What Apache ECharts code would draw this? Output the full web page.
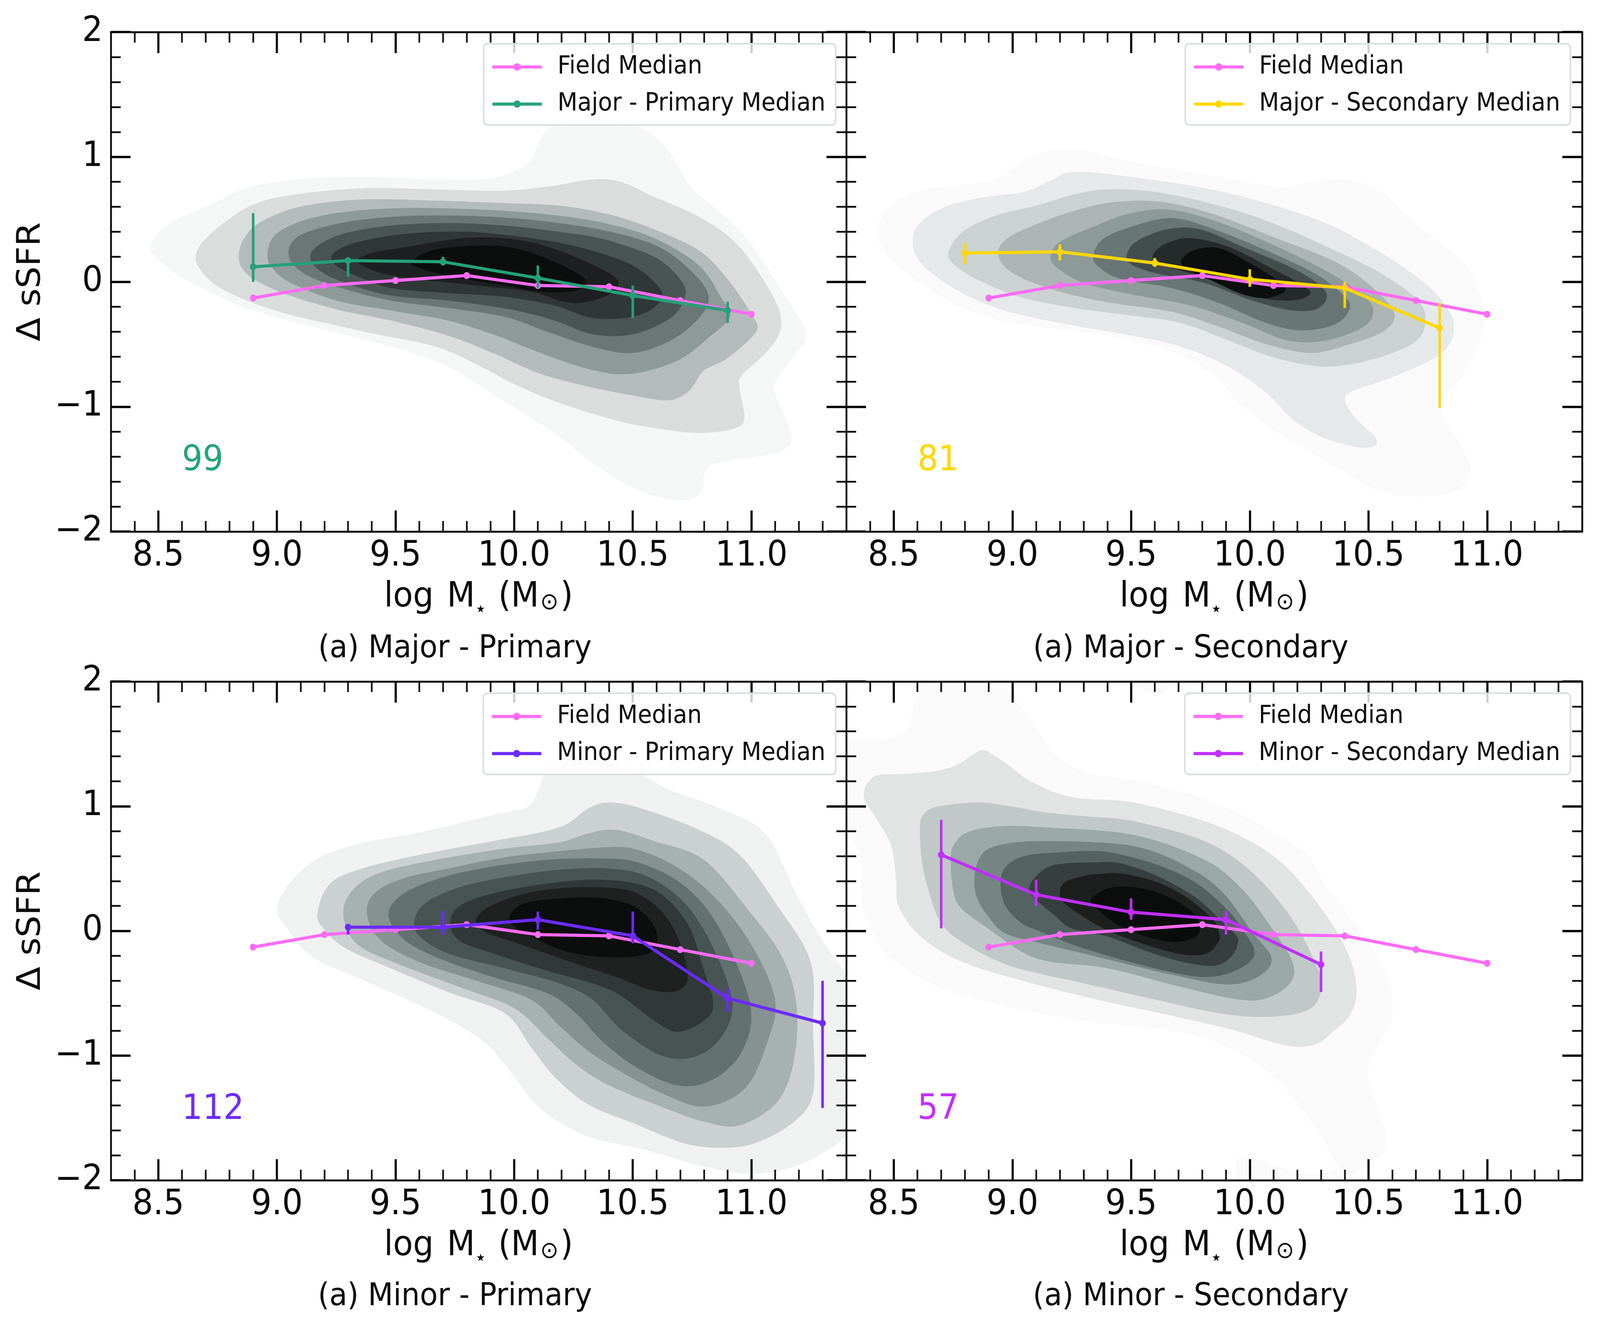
<!DOCTYPE html>
<html><head><meta charset="utf-8">
<style>html,body{margin:0;padding:0;background:#fff;overflow:hidden}#c{width:4375px;height:3408px;transform-origin:0 0}</style>
<script src="https://cdn.jsdelivr.net/npm/echarts@6/dist/echarts.min.js"></script>
</head><body><div id="c"></div>
<script>
const xMajor=[8.5,9,9.5,10,10.5,11];
const xMinor=[8.4,8.6,8.7,8.8,8.9,9.1,9.2,9.3,9.4,9.6,9.7,9.8,9.9,10.1,10.2,10.3,10.4,10.6,10.7,10.8,10.9,11.1,11.2,11.3];
const yMajor=[-2,-1,0,1,2];
const yMinor=[-1.8,-1.6,-1.4,-1.2,-0.8,-0.6,-0.4,-0.2,0.2,0.4,0.6,0.8,1.2,1.4,1.6,1.8];
const fieldX=[8.9,9.2,9.5,9.8,10.1,10.4,10.7,11.0];
const fieldY=[-0.13,-0.03,0.01,0.05,-0.03,-0.04,-0.15,-0.26];

const mpX=[8.9,9.3,9.7,10.1,10.5,10.9];
const mpY=[0.12,0.17,0.16,0.03,-0.11,-0.23];
const mpLow=[0.0,0.04,0.13,-0.05,-0.29,-0.33];
const mpHigh=[0.55,0.19,0.20,0.13,-0.03,-0.16];
const msX=[8.8,9.2,9.6,10.0,10.4,10.8];
const msY=[0.23,0.24,0.15,0.02,-0.05,-0.37];
const msLow=[0.14,0.17,0.12,-0.04,-0.21,-1.01];
const msHigh=[0.31,0.30,0.19,0.10,0.0,-0.17];
const npX=[9.3,9.7,10.1,10.5,10.9,11.3];
const npY=[0.03,0.03,0.09,-0.04,-0.54,-0.74];
const npLow=[-0.03,-0.03,0.01,-0.10,-0.65,-1.42];
const npHigh=[0.05,0.16,0.155,0.155,-0.46,-0.40];
const nsX=[8.7,9.1,9.5,9.9,10.3];
const nsY=[0.61,0.29,0.15,0.09,-0.27];
const nsLow=[0.02,0.20,0.09,-0.03,-0.49];
const nsHigh=[0.89,0.41,0.26,0.16,-0.165];

const mpShades=['#f5f7f6','#d9dedd','#b3bcbb','#8d9a98','#6a7776','#4a5453','#303737','#1c2020','#0c0e0e'];
const msShades=['#fafafa','#e6e9e9','#ccd2d2','#acb5b4','#8c9a98','#687675','#444d4d','#252a2a','#0d0f0f'];
const npShades=['#f0f2f1','#cbd1d0','#a7b1b0','#869291','#637170','#485453','#303838','#1d2120','#0c0d0d'];
const nsShades=['#fafafa','#e0e4e3','#c0c9c8','#9aa8a7','#748584','#546362','#363e3f','#1b201f','#0b0d0c'];

const mpContours=[
[[8.47,.30],[8.54,.46],[8.71,.61],[8.87,.75],[9.08,.82],[9.37,.84],[9.67,.82],[9.91,.83],[10.06,.95],[10.11,1.14],[10.17,1.26],[10.33,1.32],[10.50,1.26],[10.62,1.12],[10.69,.93],[10.75,.75],[10.88,.54],[11.0,.30],[11.13,-.08],[11.23,-.40],[11.19,-.57],[11.11,-.78],[11.10,-.89],[11.17,-1.24],[11.12,-1.36],[11.0,-1.41],[10.84,-1.46],[10.80,-1.55],[10.79,-1.69],[10.70,-1.75],[10.52,-1.67],[10.33,-1.45],[10.19,-1.24],[9.96,-.96],[9.72,-.68],[9.48,-.52],[9.15,-.36],[8.87,-.21],[8.61,.02],[8.49,.20]],
[[8.66,.23],[8.73,.40],[8.89,.61],[9.08,.70],[9.37,.75],[9.67,.74],[9.96,.73],[10.17,.77],[10.33,.82],[10.45,.80],[10.59,.68],[10.76,.54],[10.90,.37],[11.0,.16],[11.11,-.19],[11.12,-.40],[11.06,-.57],[10.96,-.75],[10.95,-.85],[10.97,-1.10],[10.92,-1.18],[10.78,-1.21],[10.62,-1.18],[10.43,-1.11],[10.19,-.97],[10.0,-.82],[9.86,-.68],[9.67,-.52],[9.37,-.40],[9.01,-.24],[8.78,-.07],[8.68,.09]],
[[8.84,.23],[8.89,.42],[9.01,.55],[9.15,.62],[9.37,.66],[9.67,.65],[9.96,.63],[10.19,.61],[10.40,.54],[10.59,.42],[10.78,.25],[10.90,.02],[11.0,-.26],[11.02,-.40],[10.90,-.61],[10.80,-.71],[10.76,-.82],[10.72,-.90],[10.64,-.95],[10.47,-.90],[10.29,-.83],[10.10,-.73],[9.91,-.57],[9.72,-.43],[9.48,-.31],[9.25,-.22],[9.01,-.08],[8.87,.07]],
[[8.96,.20],[8.99,.37],[9.11,.49],[9.29,.56],[9.53,.59],[9.84,.58],[10.14,.54],[10.38,.47],[10.59,.35],[10.78,.13],[10.87,-.12],[10.91,-.28],[10.83,-.43],[10.71,-.61],[10.57,-.71],[10.43,-.74],[10.26,-.67],[10.07,-.54],[9.91,-.42],[9.72,-.31],[9.48,-.23],[9.25,-.15],[9.06,-.01],[8.99,.09]],
[[9.05,.20],[9.08,.35],[9.20,.44],[9.37,.50],[9.60,.53],[9.91,.52],[10.19,.47],[10.43,.39],[10.62,.27],[10.76,.06],[10.82,-.12],[10.78,-.29],[10.66,-.47],[10.50,-.57],[10.33,-.52],[10.14,-.40],[9.96,-.28],[9.72,-.21],[9.48,-.15],[9.27,-.05],[9.12,.06]],
[[9.14,.20],[9.18,.30],[9.29,.39],[9.48,.45],[9.72,.47],[9.96,.45],[10.19,.40],[10.38,.34],[10.59,.20],[10.70,.02],[10.72,-.12],[10.66,-.29],[10.50,-.42],[10.33,-.42],[10.17,-.31],[9.98,-.22],[9.72,-.15],[9.48,-.11],[9.29,-.01],[9.18,.09]],
[[9.23,.20],[9.27,.27],[9.39,.34],[9.58,.39],[9.81,.40],[10.07,.35],[10.29,.27],[10.50,.13],[10.62,-.07],[10.60,-.19],[10.50,-.28],[10.33,-.29],[10.17,-.19],[9.96,-.12],[9.72,-.09],[9.48,-.05],[9.32,.06],[9.25,.13]],
[[9.34,.16],[9.40,.23],[9.55,.28],[9.79,.35],[10.0,.34],[10.19,.25],[10.40,.07],[10.44,-.03],[10.38,-.12],[10.24,-.17],[10.07,-.08],[9.84,-.03],[9.60,.02],[9.44,.07]],
[[9.57,.16],[9.65,.25],[9.84,.29],[10.0,.27],[10.17,.16],[10.30,.02],[10.26,-.07],[10.12,-.08],[9.96,-.03],[9.74,.04],[9.60,.11]]
];
const msContours=[
[[8.43,.44],[8.50,.63],[8.63,.74],[8.79,.77],[8.95,.84],[9.05,.98],[9.16,1.05],[9.30,1.05],[9.50,.96],[9.81,.86],[10.11,.76],[10.24,.79],[10.40,.82],[10.54,.74],[10.67,.51],[10.83,.27],[10.93,.09],[10.98,-.19],[10.98,-.43],[10.91,-.71],[10.81,-.96],[10.82,-1.10],[10.90,-1.34],[10.93,-1.53],[10.87,-1.67],[10.71,-1.72],[10.54,-1.67],[10.38,-1.50],[10.11,-1.20],[9.95,-.96],[9.85,-.75],[9.71,-.59],[9.50,-.47],[9.20,-.38],[8.95,-.31],[8.75,-.17],[8.54,.09],[8.45,.28]],
[[8.58,.34],[8.62,.49],[8.73,.61],[8.89,.68],[9.05,.72],[9.16,.81],[9.26,.88],[9.50,.84],[9.81,.75],[10.07,.63],[10.32,.47],[10.52,.27],[10.69,.06],[10.81,-.15],[10.86,-.36],[10.81,-.57],[10.62,-.75],[10.44,-.87],[10.40,-.94],[10.44,-1.08],[10.53,-1.25],[10.52,-1.32],[10.44,-1.32],[10.30,-1.24],[10.18,-1.10],[10.07,-.89],[9.91,-.68],[9.71,-.52],[9.50,-.43],[9.20,-.33],[8.95,-.22],[8.75,-.05],[8.61,.16]],
[[8.73,.23],[8.79,.40],[8.93,.53],[9.10,.61],[9.26,.70],[9.40,.74],[9.60,.72],[9.87,.61],[10.11,.46],[10.36,.25],[10.56,.06],[10.71,-.15],[10.74,-.33],[10.69,-.49],[10.52,-.62],[10.32,-.68],[10.11,-.61],[9.91,-.47],[9.71,-.33],[9.50,-.27],[9.26,-.21],[9.03,-.12],[8.85,.02],[8.76,.13]],
[[8.94,.21],[8.98,.35],[9.14,.49],[9.30,.59],[9.44,.64],[9.63,.64],[9.85,.54],[10.11,.35],[10.36,.16],[10.52,-.05],[10.61,-.26],[10.56,-.40],[10.42,-.50],[10.26,-.57],[10.07,-.50],[9.87,-.36],[9.67,-.24],[9.42,-.17],[9.20,-.08],[9.01,.06]],
[[9.16,.20],[9.20,.32],[9.34,.44],[9.48,.54],[9.65,.58],[9.85,.49],[10.07,.32],[10.30,.11],[10.46,-.08],[10.52,-.22],[10.48,-.36],[10.32,-.47],[10.16,-.47],[9.97,-.33],[9.75,-.19],[9.50,-.10],[9.30,-.01],[9.19,.11]],
[[9.34,.20],[9.38,.34],[9.50,.44],[9.67,.51],[9.85,.42],[10.07,.25],[10.28,.06],[10.40,-.12],[10.42,-.22],[10.36,-.34],[10.22,-.39],[10.07,-.33],[9.87,-.17],[9.67,-.05],[9.46,.02],[9.37,.11]],
[[9.48,.20],[9.52,.32],[9.65,.42],[9.79,.42],[9.97,.28],[10.20,.09],[10.32,-.08],[10.29,-.21],[10.18,-.23],[10.01,-.15],[9.81,-.01],[9.60,.07],[9.51,.13]],
[[9.59,.20],[9.64,.30],[9.75,.35],[9.91,.28],[10.07,.13],[10.24,-.05],[10.24,-.12],[10.16,-.15],[10.03,-.12],[9.87,0],[9.71,.09],[9.63,.14]],
[[9.71,.16],[9.76,.25],[9.87,.27],[9.99,.16],[10.11,.02],[10.15,-.07],[10.07,-.13],[9.97,-.10],[9.85,0],[9.75,.09]]
];
const npContours=[
[[9.0,.18],[9.06,.40],[9.18,.59],[9.37,.71],[9.60,.79],[9.91,.93],[10.06,1.0],[10.11,1.17],[10.16,1.37],[10.33,1.46],[10.54,1.25],[10.66,1.13],[10.87,.98],[11.06,.78],[11.18,.33],[11.30,-.08],[11.39,-.32],[11.46,-.59],[11.46,-1.44],[11.39,-1.66],[11.21,-1.87],[11.0,-1.95],[10.78,-1.88],[10.54,-1.75],[10.31,-1.65],[10.12,-1.44],[10.0,-1.17],[9.88,-.90],[9.67,-.66],[9.37,-.40],[9.15,-.21],[9.04,.03]],
[[9.17,.14],[9.22,.37],[9.34,.49],[9.60,.61],[9.91,.72],[10.19,.83],[10.31,.98],[10.40,1.03],[10.54,.98],[10.78,.81],[10.95,.61],[11.11,.20],[11.25,-.25],[11.26,-.79],[11.26,-1.30],[11.18,-1.53],[11.02,-1.70],[10.87,-1.74],[10.71,-1.70],[10.50,-1.54],[10.31,-1.39],[10.17,-1.17],[10.07,-.93],[9.96,-.66],[9.72,-.49],[9.48,-.30],[9.29,-.14],[9.20,.01]],
[[9.28,.13],[9.32,.33],[9.44,.47],[9.67,.57],[9.96,.66],[10.19,.71],[10.31,.78],[10.43,.81],[10.59,.72],[10.80,.57],[10.99,.16],[11.13,-.21],[11.19,-.59],[11.18,-1.03],[11.11,-1.37],[10.95,-1.56],[10.80,-1.53],[10.62,-1.41],[10.40,-1.24],[10.26,-1.07],[10.14,-.86],[10.0,-.62],[9.77,-.45],[9.53,-.28],[9.34,-.11]],
[[9.38,.13],[9.41,.30],[9.53,.42],[9.72,.50],[9.96,.59],[10.19,.64],[10.38,.67],[10.50,.66],[10.66,.54],[10.83,.30],[10.99,-.08],[11.10,-.55],[11.06,-.93],[10.97,-1.27],[10.80,-1.41],[10.62,-1.30],[10.45,-1.13],[10.31,-.96],[10.19,-.76],[10.07,-.55],[9.84,-.40],[9.60,-.25],[9.44,-.08]],
[[9.47,.13],[9.52,.28],[9.65,.40],[9.86,.50],[10.14,.57],[10.38,.58],[10.52,.55],[10.69,.40],[10.83,.13],[10.95,-.32],[11.0,-.69],[10.95,-1.0],[10.83,-1.20],[10.69,-1.24],[10.52,-1.10],[10.38,-.90],[10.26,-.66],[10.14,-.50],[9.91,-.37],[9.67,-.21],[9.53,-.06]],
[[9.58,.09],[9.63,.23],[9.77,.35],[9.96,.43],[10.19,.49],[10.40,.50],[10.57,.43],[10.73,.20],[10.85,-.18],[10.92,-.59],[10.87,-.86],[10.76,-1.01],[10.62,-1.0],[10.45,-.79],[10.33,-.55],[10.19,-.42],[9.96,-.30],[9.72,-.18],[9.60,-.04]],
[[9.73,.06],[9.77,.20],[9.91,.30],[10.14,.38],[10.38,.41],[10.59,.33],[10.73,.06],[10.80,-.32],[10.84,-.59],[10.80,-.72],[10.69,-.81],[10.59,-.72],[10.45,-.52],[10.33,-.42],[10.14,-.32],[9.91,-.18],[9.77,-.08]],
[[9.84,.09],[9.91,.21],[10.10,.32],[10.33,.35],[10.52,.30],[10.66,.06],[10.73,-.32],[10.70,-.47],[10.59,-.48],[10.43,-.37],[10.24,-.25],[10.03,-.11],[9.88,-.01]],
[[9.98,.08],[10.03,.21],[10.19,.26],[10.38,.26],[10.52,.18],[10.60,-.01],[10.57,-.18],[10.38,-.21],[10.21,-.16],[10.07,-.04]]
];
const nsIsland=[[9.50,2.05],[9.53,1.95],[9.58,1.90],[9.63,1.90],[9.68,2.05]];
const nsContours=[
[[8.44,-.115],[8.38,.12],[8.36,.33],[8.36,.57],[8.34,.68],[8.30,.82],[8.26,.89],[8.26,1.54],[8.30,1.54],[8.44,1.54],[8.51,1.56],[8.56,1.63],[8.58,1.77],[8.60,1.92],[8.62,2.02],[8.62,2.15],[8.94,2.15],[8.94,2.01],[9.03,1.81],[9.10,1.63],[9.18,1.42],[9.26,1.31],[9.38,1.24],[9.51,1.21],[9.71,1.12],[9.91,.98],[10.11,.78],[10.24,.61],[10.32,.37],[10.44,.06],[10.58,-.35],[10.60,-.68],[10.57,-.81],[10.50,-1.10],[10.52,-1.30],[10.58,-1.68],[10.55,-1.81],[10.44,-1.95],[10.44,-2.04],[10.0,-2.04],[9.94,-1.86],[9.96,-1.81],[10.01,-1.82],[10.11,-1.88],[10.20,-1.94],[10.29,-1.95],[10.35,-1.92],[10.37,-1.89],[10.35,-1.82],[10.29,-1.62],[10.22,-1.43],[10.15,-1.26],[10.08,-1.14],[9.98,-1.0],[9.84,-.88],[9.67,-.80],[9.50,-.76],[9.30,-.72],[8.99,-.61],[8.69,-.45],[8.48,-.21]],
[[8.376,1.13],[8.396,1.20],[8.435,1.25],[8.55,1.26],[8.67,1.28],[8.765,1.33],[8.83,1.41],[8.876,1.45],[8.92,1.41],[8.99,1.32],[9.06,1.22],[9.18,1.11],[9.30,1.06],[9.51,1.03],[9.81,.88],[10.01,.71],[10.16,.50],[10.32,.13],[10.42,-.21],[10.45,-.49],[10.42,-.68],[10.35,-.81],[10.29,-.90],[10.21,-.93],[10.11,-.90],[9.94,-.80],[9.67,-.68],[9.40,-.57],[9.10,-.43],[8.79,-.25],[8.61,-.04],[8.52,.20],[8.51,.40],[8.49,.68],[8.43,.89],[8.38,1.04]],
[[8.61,.79],[8.62,.92],[8.67,.99],[8.77,1.02],[8.87,1.03],[8.99,1.0],[9.14,.95],[9.30,.92],[9.51,.88],[9.81,.72],[10.01,.47],[10.18,.09],[10.29,-.32],[10.30,-.49],[10.24,-.64],[10.07,-.69],[9.87,-.66],[9.60,-.55],[9.30,-.42],[8.99,-.28],[8.78,-.08],[8.695,.08],[8.65,.30],[8.62,.54]],
[[8.74,.54],[8.75,.68],[8.81,.79],[8.95,.84],[9.14,.83],[9.51,.77],[9.81,.57],[9.97,.33],[10.09,.03],[10.18,-.25],[10.17,-.42],[10.07,-.54],[9.95,-.55],[9.71,-.45],[9.40,-.30],[9.10,-.22],[8.89,.03],[8.78,.19],[8.75,.33]],
[[8.84,.44],[8.87,.61],[8.95,.69],[9.14,.72],[9.51,.68],[9.75,.50],[9.89,.30],[10.01,-.01],[10.09,-.21],[10.05,-.35],[9.91,-.43],[9.67,-.35],[9.34,-.20],[9.10,-.09],[8.97,-.02],[8.90,.11],[8.85,.27]],
[[8.95,.37],[8.97,.51],[9.05,.60],[9.20,.63],[9.36,.64],[9.46,.61],[9.61,.53],[9.77,.39],[9.90,.18],[9.97,.01],[10.02,-.18],[9.95,-.31],[9.81,-.37],[9.60,-.30],[9.30,-.14],[9.11,0],[9.04,.06],[8.97,.20]],
[[9.07,.33],[9.10,.44],[9.18,.53],[9.36,.55],[9.46,.54],[9.61,.44],[9.77,.27],[9.87,.10],[9.94,-.03],[9.95,-.10],[9.92,-.21],[9.85,-.28],[9.72,-.25],[9.56,-.16],[9.41,-.05],[9.25,.02],[9.18,.12],[9.10,.25]],
[[9.20,.30],[9.22,.39],[9.30,.44],[9.36,.455],[9.46,.46],[9.61,.39],[9.74,.26],[9.85,.08],[9.87,-.02],[9.87,-.08],[9.82,-.18],[9.72,-.19],[9.56,-.11],[9.41,-.005],[9.31,.10],[9.22,.22]],
[[9.33,.24],[9.35,.29],[9.41,.345],[9.49,.355],[9.59,.32],[9.69,.24],[9.77,.126],[9.79,.02],[9.77,-.05],[9.69,-.09],[9.59,-.06],[9.46,.03],[9.36,.17]]
];
const panelNames=['Major - Primary','Major - Secondary','Minor - Primary','Minor - Secondary'];
const panelCounts=['99','81','112','57'];
const panelColors=['#24a278','#ffd700','#6c2bff','#c12fff'];
const fieldColor='#ff6bf5';

const FONT='DejaVu Sans', INK='#0a0a0a';
const host=document.getElementById('c');
const fitX=Math.min(1,window.innerWidth/4375);
host.style.transform='scaleX('+fitX+')';

function closedSpline(p){ // smooth closed outline through the digitised contour vertices
  const n=p.length,out=[];
  for(let i=0;i<n;i++){
    const a=p[(i-1+n)%n],b=p[i],c=p[(i+1)%n],d=p[(i+2)%n];
    for(let k=0;k<8;k++){const t=k/8,t2=t*t,t3=t2*t;
      out.push([0.5*(2*b[0]+(c[0]-a[0])*t+(2*a[0]-5*b[0]+4*c[0]-d[0])*t2+(3*b[0]-a[0]-3*c[0]+d[0])*t3),
                0.5*(2*b[1]+(c[1]-a[1])*t+(2*a[1]-5*b[1]+4*c[1]-d[1])*t2+(3*b[1]-a[1]-3*c[1]+d[1])*t3)]);}
  }
  return out;
}
const panels=[
 {name:panelNames[0],count:panelCounts[0],color:panelColors[0],X:mpX,Y:mpY,L:mpLow,H:mpHigh,C:mpContours,S:mpShades,box:[303,82,2011,1279],cap:1244,capTop:1622,legR:2090,yl:true},
 {name:panelNames[1],count:panelCounts[1],color:panelColors[1],X:msX,Y:msY,L:msLow,H:msHigh,C:msContours,S:msShades,box:[2314,82,2012,1279],cap:3256,capTop:1622,legR:81,yl:false},
 {name:panelNames[2],count:panelCounts[2],color:panelColors[2],X:npX,Y:npY,L:npLow,H:npHigh,C:npContours,S:npShades,box:[303,1745,2011,1277],cap:1244,capTop:3281,legR:2090,yl:true},
 {name:panelNames[3],count:panelCounts[3],color:panelColors[3],X:nsX,Y:nsY,L:nsLow,H:nsHigh,C:nsContours,S:nsShades,box:[2314,1745,2012,1277],cap:3256,capTop:3281,legR:81,yl:false,extra:nsIsland}
];
const grids=[],xAxes=[],yAxes=[],series=[],legends=[],titles=[];
const spine={show:true,onZero:false,lineStyle:{color:INK,width:5}};
const noLine={show:false,onZero:false};
const base={type:'value',splitLine:{show:false},minorTick:{show:false},silent:true,z:2};
const xName='{n|log }{m|M}{a|\u2605}{n| (M}{b|\u2299}{n|)}';
panels.forEach((p,g)=>{
  grids.push({left:p.box[0],top:p.box[1],width:p.box[2],height:p.box[3],containLabel:false,show:false});
  const xr={min:8.3,max:11.4,gridIndex:g}, yr={min:-2,max:2,gridIndex:g};
  const x0=xAxes.length,y0=yAxes.length;
  xAxes.push(Object.assign({},base,xr,{position:'bottom',axisLine:spine,
    axisTick:{show:true,inside:true,length:54,customValues:xMajor,lineStyle:{color:INK,width:6}},
    axisLabel:{show:true,customValues:xMajor,margin:19,fontSize:89,fontFamily:FONT,color:INK,formatter:v=>(+v).toFixed(1)},
    name:xName,nameLocation:'middle',nameGap:124,
    nameTextStyle:{fontFamily:FONT,color:INK,rich:{n:{fontSize:89,fontFamily:FONT,color:INK},m:{fontSize:89,fontFamily:FONT,color:INK,padding:[0,0,0,8]},a:{fontSize:27,fontFamily:FONT,color:INK,verticalAlign:'bottom',padding:[0,8,0,3]},b:{fontSize:60,fontFamily:FONT,color:INK,verticalAlign:'bottom',padding:[0,5,0,3]}}}}));
  xAxes.push(Object.assign({},base,xr,{position:'top',axisLine:spine,axisLabel:{show:false},
    axisTick:{show:true,inside:true,length:54,customValues:xMajor,lineStyle:{color:INK,width:6}}}));
  xAxes.push(Object.assign({},base,xr,{position:'bottom',axisLine:noLine,axisLabel:{show:false},
    axisTick:{show:true,inside:true,length:27,customValues:xMinor,lineStyle:{color:INK,width:4.5}}}));
  xAxes.push(Object.assign({},base,xr,{position:'top',axisLine:noLine,axisLabel:{show:false},
    axisTick:{show:true,inside:true,length:27,customValues:xMinor,lineStyle:{color:INK,width:4.5}}}));
  yAxes.push(Object.assign({},base,yr,{position:'left',axisLine:spine,
    axisTick:{show:true,inside:true,length:54,customValues:yMajor,lineStyle:{color:INK,width:6}},
    axisLabel:{show:p.yl,customValues:yMajor,margin:22,fontSize:89,fontFamily:FONT,color:INK,formatter:v=>(+v<0?'\u2212'+Math.abs(+v):''+(+v))},
    name:p.yl?'\u0394 sSFR':'',nameLocation:'middle',nameRotate:90,nameGap:173,nameTextStyle:{fontSize:89,fontFamily:FONT,color:INK}}));
  yAxes.push(Object.assign({},base,yr,{position:'right',axisLine:spine,axisLabel:{show:false},
    axisTick:{show:true,inside:true,length:54,customValues:yMajor,lineStyle:{color:INK,width:6}}}));
  yAxes.push(Object.assign({},base,yr,{position:'left',axisLine:noLine,axisLabel:{show:false},
    axisTick:{show:true,inside:true,length:27,customValues:yMinor,lineStyle:{color:INK,width:4.5}}}));
  yAxes.push(Object.assign({},base,yr,{position:'right',axisLine:noLine,axisLabel:{show:false},
    axisTick:{show:true,inside:true,length:27,customValues:yMinor,lineStyle:{color:INK,width:4.5}}}));
  const polys=p.C.map((pts,i)=>({pts,fill:p.S[i]}));
  if(p.extra) polys.splice(1,0,{pts:p.extra,fill:p.S[0]});
  series.push({type:'custom',name:'kde'+g,coordinateSystem:'cartesian2d',xAxisIndex:x0,yAxisIndex:y0,clip:true,z:1,silent:true,
    data:polys.map((_,i)=>[i]),encode:{x:-1,y:-1},
    renderItem:(params,api)=>{const o=polys[params.dataIndex];
      return {type:'polygon',shape:{points:closedSpline(o.pts.map(q=>api.coord(q)))},style:{fill:o.fill,stroke:null}};}});
  series.push({type:'line',name:'Field Median',xAxisIndex:x0,yAxisIndex:y0,z:3,symbol:'circle',symbolSize:18,showSymbol:true,
    data:fieldX.map((x,i)=>[x,fieldY[i]]),lineStyle:{color:fieldColor,width:8},itemStyle:{color:fieldColor},silent:true});
  const medName=p.name+' Median';
  series.push({type:'line',name:medName,xAxisIndex:x0,yAxisIndex:y0,z:4,symbol:'circle',symbolSize:18,showSymbol:true,
    data:p.X.map((x,i)=>[x,p.Y[i]]),lineStyle:{color:p.color,width:8},itemStyle:{color:p.color},silent:true});
  series.push({type:'custom',name:'err'+g,coordinateSystem:'cartesian2d',xAxisIndex:x0,yAxisIndex:y0,z:4,silent:true,
    data:p.X.map((x,i)=>[x,p.L[i],p.H[i]]),encode:{x:0,y:[1,2]},
    renderItem:(params,api)=>{const a=api.coord([api.value(0),api.value(1)]),b=api.coord([api.value(0),api.value(2)]);
      return {type:'line',shape:{x1:a[0],y1:a[1],x2:b[0],y2:b[1]},style:{stroke:p.color,lineWidth:7}};}});
  series.push({type:'custom',name:'n'+g,coordinateSystem:'cartesian2d',xAxisIndex:x0,yAxisIndex:y0,z:5,silent:true,
    data:[[8.6,-1.5]],encode:{x:0,y:1},
    renderItem:(params,api)=>{const a=api.coord([api.value(0),api.value(1)]);
      return {type:'text',x:a[0],y:a[1]+24,style:{text:p.count,fontSize:89,fontFamily:FONT,fill:p.color,textAlign:'left',textVerticalAlign:'bottom'}};}});
  legends.push({data:['Field Median',medName],right:p.legR,top:p.box[1]+30,orient:'vertical',selectedMode:false,z:6,
    padding:[28,28,22,20],itemGap:32,itemWidth:135,itemHeight:24,lineStyle:{width:8},
    backgroundColor:'rgba(255,255,255,0.8)',borderColor:'#d8dedc',borderWidth:4,borderRadius:11,
    textStyle:{fontSize:63.2,fontFamily:FONT,color:INK,padding:[0,0,0,38]}});
  titles.push({text:'(a) '+p.name,left:p.cap,top:p.capTop,textAlign:'center',padding:0,textStyle:{fontSize:80,fontWeight:'normal',fontFamily:FONT,color:INK}});
});
const chart=echarts.init(host,null,{renderer:'canvas',width:4375,height:3408});
chart.setOption({animation:false,backgroundColor:'#fff',grid:grids,xAxis:xAxes,yAxis:yAxes,series,legend:legends,title:titles,tooltip:{show:false}});
</script></body></html>
